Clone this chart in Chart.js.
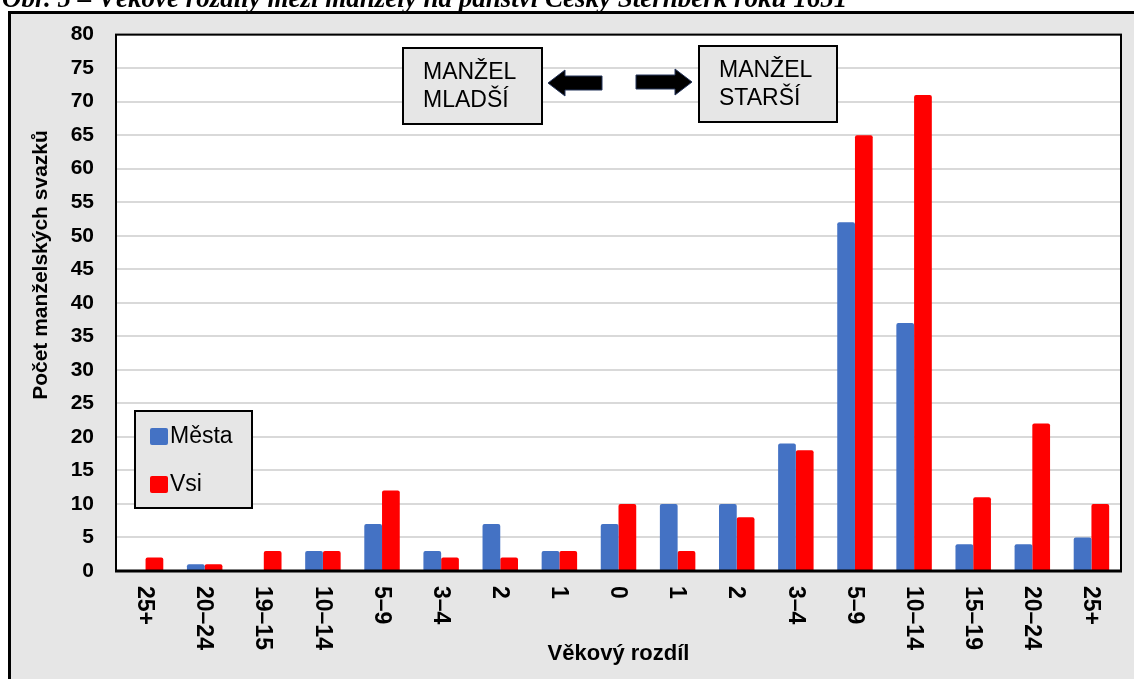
<!DOCTYPE html>
<html>
<head>
<meta charset="utf-8">
<script src="https://cdn.jsdelivr.net/npm/chart.js@4"></script>
<style>
  html, body { margin: 0; padding: 0; background: #fff; overflow: hidden; }
  canvas { display: block; }
</style>
</head>
<body>
<canvas id="chart" width="1134" height="679"></canvas>
<script>
const categories = ['25+', '20–24', '19–15', '10–14', '5–9', '3–4', '2', '1', '0', '1', '2', '3–4', '5–9', '10–14', '15–19', '20–24', '25+'];
const mesta = [0, 1, 0, 3, 7, 3, 7, 3, 7, 10, 10, 19, 52, 37, 4, 4, 5];
const vsi = [2, 1, 3, 3, 12, 2, 2, 3, 10, 3, 8, 18, 65, 71, 11, 22, 10];
const seriesNames = ['Města', 'Vsi'];
const yMin = 0, yMax = 80, yStep = 5;

const figTitle = 'Obr. 5 – Věkové rozdíly mezi manžely na panství Český Šternberk roku 1651';
const yTitle = 'Počet manželských svazků';

const ctx = document.getElementById('chart').getContext('2d');

function arrow(c, tipX, baseX, shaftEnd, cy) {
  // horizontal block arrow, tip at tipX
  c.beginPath();
  c.moveTo(tipX, cy);
  c.lineTo(baseX, cy - 13);
  c.lineTo(baseX, cy - 7);
  c.lineTo(shaftEnd, cy - 7);
  c.lineTo(shaftEnd, cy + 7);
  c.lineTo(baseX, cy + 7);
  c.lineTo(baseX, cy + 13);
  c.closePath();
  c.fillStyle = '#000';
  c.fill();
  c.strokeStyle = '#24345a';
  c.lineWidth = 1;
  c.stroke();
}

function textBox(c, x, y, w, h, lines) {
  c.fillStyle = '#e6e6e6';
  c.fillRect(x, y, w, h);
  c.strokeStyle = '#000';
  c.lineWidth = 2;
  c.strokeRect(x, y, w, h);
  c.fillStyle = '#000';
  c.font = '23px "Liberation Sans", Arial, sans-serif';
  c.textAlign = 'left';
  c.textBaseline = 'middle';
  c.fillText(lines[0], x + 20, y + 25);
  c.fillText(lines[1], x + 20, y + 53);
}

const decor = {
  id: 'decor',
  beforeDraw(chart) {
    const { ctx: c, chartArea: a, width, height } = chart;
    c.save();
    c.fillStyle = '#fff';
    c.fillRect(0, 0, width, height);
    c.fillStyle = '#e6e6e6';
    c.fillRect(8, 11, width, height);
    c.fillStyle = '#000';
    c.fillRect(8, 11, width, 3);
    c.fillRect(8, 11, 3, height);
    // cut-off figure caption
    c.font = 'italic bold 27px "Liberation Serif", "Times New Roman", serif';
    c.textAlign = 'left';
    c.textBaseline = 'alphabetic';
    c.fillText(figTitle, 2, 7);
    // plot background
    c.fillStyle = '#fff';
    c.fillRect(a.left, a.top, a.right - a.left, a.bottom - a.top);
    c.restore();
  },
  afterDatasetsDraw(chart) {
    const { ctx: c, chartArea: a } = chart;
    c.save();
    c.strokeStyle = '#000';
    c.lineWidth = 2;
    c.strokeRect(a.left, a.top, a.right - a.left, a.bottom - a.top);
    c.lineWidth = 3;
    c.beginPath();
    c.moveTo(a.left - 1, a.bottom);
    c.lineTo(a.right + 1, a.bottom);
    c.stroke();
    c.restore();
  },
  afterDraw(chart) {
    const { ctx: c, chartArea: a } = chart;
    const xs = chart.scales.x;
    c.save();
    // x tick labels, reading top to bottom
    c.fillStyle = '#000';
    c.font = 'bold 23px "Liberation Sans", Arial, sans-serif';
    chart.data.labels.forEach((lab, i) => {
      c.save();
      c.translate(xs.getPixelForTick(i), a.bottom + 15);
      c.rotate(Math.PI / 2);
      c.textAlign = 'left';
      c.textBaseline = 'middle';
      c.fillText(lab, 0, 1);
      c.restore();
    });
    // y axis title
    c.save();
    c.translate(41, 265);
    c.rotate(-Math.PI / 2);
    c.font = 'bold 21px "Liberation Sans", Arial, sans-serif';
    c.textAlign = 'center';
    c.textBaseline = 'middle';
    c.fillText(yTitle, 0, 0);
    c.restore();
    // legend
    c.fillStyle = '#e6e6e6';
    c.fillRect(135, 411, 117, 97);
    c.strokeStyle = '#000';
    c.lineWidth = 2;
    c.strokeRect(135, 411, 117, 97);
    c.font = '23px "Liberation Sans", Arial, sans-serif';
    c.textAlign = 'left';
    c.textBaseline = 'middle';
    chart.data.datasets.forEach((ds, i) => {
      const y = 436 + i * 48;
      c.fillStyle = ds.backgroundColor;
      c.beginPath();
      c.roundRect(150, y - 8, 18, 17, 2);
      c.fill();
      c.fillStyle = '#000';
      c.fillText(ds.label, 170, y + 1);
    });
    // annotation boxes and arrows
    textBox(c, 403, 48, 139, 76, ['MANŽEL', 'MLADŠÍ']);
    textBox(c, 699, 46, 138, 76, ['MANŽEL', 'STARŠÍ']);
    arrow(c, 548, 565, 602, 83);
    arrow(c, 692, 675, 636, 82);
    c.restore();
  }
};

const myChart = new Chart(ctx, {
  type: 'bar',
  data: {
    labels: categories,
    datasets: [
      { label: seriesNames[0], data: mesta, backgroundColor: '#4472c4' },
      { label: seriesNames[1], data: vsi, backgroundColor: '#ff0000' }
    ]
  },
  options: {
    responsive: false,
    animation: false,
    layout: { padding: { left: 12, top: 32, right: 13, bottom: 0 } },
    datasets: {
      bar: {
        categoryPercentage: 0.6,
        barPercentage: 1,
        borderRadius: { topLeft: 2, topRight: 2 },
        borderSkipped: 'start'
      }
    },
    scales: {
      x: {
        grid: { display: false },
        border: { display: false },
        ticks: { display: false },
        title: {
          display: true,
          text: 'Věkový rozdíl',
          color: '#000',
          font: { family: '"Liberation Sans", Arial, sans-serif', size: 22, weight: 'bold' },
          padding: { top: 0, bottom: 12 }
        },
        afterFit: s => { s.height = 108; }
      },
      y: {
        min: yMin,
        max: yMax,
        ticks: {
          stepSize: yStep,
          color: '#000',
          padding: 22,
          font: { family: '"Liberation Sans", Arial, sans-serif', size: 21, weight: 'bold' }
        },
        grid: { color: '#d9d9d9', lineWidth: 2, drawTicks: false },
        border: { display: false },
        afterFit: s => { s.width = 104; }
      }
    },
    plugins: {
      legend: { display: false },
      tooltip: { enabled: false }
    }
  },
  plugins: [decor]
});
</script>
</body>
</html>
